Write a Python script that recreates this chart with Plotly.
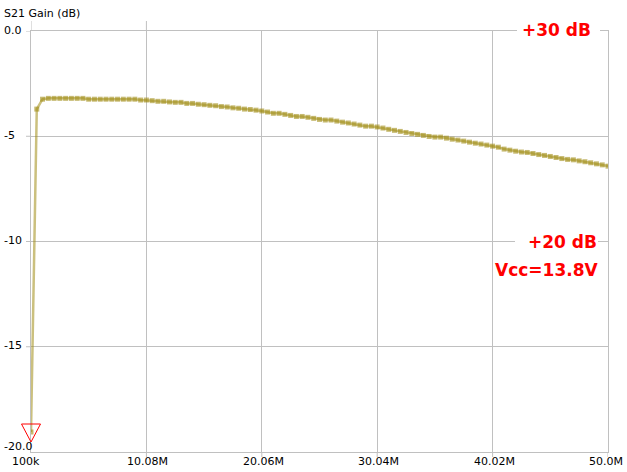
import numpy as np
import plotly.graph_objects as go

# ---- data ----
f_start = 0.1e6
f_stop = 50.0e6
n_points = 101
freqs = np.linspace(f_start, f_stop, n_points)

gain_db = [
    -19.05, -3.71, -3.24,
    -3.20, -3.20, -3.20, -3.20, -3.20, -3.20, -3.20,
    -3.24, -3.24, -3.24, -3.24, -3.24, -3.24, -3.24, -3.24, -3.24,
    -3.28, -3.28, -3.31, -3.34, -3.34, -3.37, -3.39, -3.39, -3.44, -3.44, -3.48,
    -3.50, -3.53, -3.55, -3.59, -3.61, -3.65, -3.67, -3.71, -3.73, -3.76,
    -3.80, -3.85, -3.91, -3.91, -3.96, -4.01, -4.06, -4.06, -4.10, -4.15,
    -4.20, -4.23, -4.23, -4.28, -4.33, -4.37, -4.42, -4.47, -4.52, -4.52,
    -4.56, -4.61,
    -4.67, -4.72, -4.77, -4.82, -4.87, -4.91, -4.96, -5.01, -5.04, -5.04,
    -5.09, -5.14, -5.18, -5.23, -5.28, -5.33, -5.37, -5.42, -5.47,
    -5.52, -5.61, -5.66, -5.71, -5.75, -5.77, -5.82, -5.87, -5.91, -5.96,
    -6.01, -6.06, -6.10, -6.12, -6.17, -6.21, -6.26, -6.31, -6.36, -6.42,
]

x_tick_vals = [0.1e6, 10.08e6, 20.06e6, 30.04e6, 40.02e6, 50.0e6]
x_tick_text = ["100k", "10.08M", "20.06M", "30.04M", "40.02M", "50.0M"]
y_tick_vals = [0, -5, -10, -15, -20]
y_tick_text = ["0.0", "-5", "-10", "-15", "-20.0"]

chart_title = "S21 Gain (dB)"
note_top = "+30 dB"
note_mid = "+20 dB"
note_vcc = "Vcc=13.8V"

# ---- style ----
GRID = "#c0c0c0"
SWEEP = "rgba(160,140,20,0.55)"
LABEL_FONT = dict(family="DejaVu Sans", size=11, color="black")
RED_FONT = dict(family="DejaVu Sans", size=17, color="#ff0000", weight="bold")

fig = go.Figure()
fig.add_trace(go.Scatter(
    x=freqs, y=gain_db, mode="lines+markers",
    line=dict(color=SWEEP, width=2.5),
    marker=dict(symbol="square", size=5, color="rgba(160,140,20,0.6)", line=dict(width=0)),
    hoverinfo="skip", showlegend=False,
))

shapes = []
# marker triangle at first point (first point sits on the left edge of the x range)
shapes.append(dict(
    type="path", xref="paper", yref="y", xsizemode="pixel", ysizemode="pixel",
    xanchor=0, yanchor=gain_db[0],
    path="M-9.5,8 L9.5,8 L0,-10 Z",
    line=dict(color="#ff0000", width=1), fillcolor="rgba(0,0,0,0)", layer="above",
))
# grid extensions
for v in y_tick_vals[:-1]:
    shapes.append(dict(type="line", xref="paper", yref="y", xsizemode="pixel",
                       xanchor=0, x0=-5, x1=0, y0=v, y1=v,
                       line=dict(color=GRID, width=1), layer="below"))
for i, v in enumerate(x_tick_vals):
    if i > 0:
        shapes.append(dict(type="line", xref="x", yref="paper", ysizemode="pixel",
                           yanchor=0, y0=-5, y1=0, x0=v, x1=v,
                           line=dict(color=GRID, width=1), layer="below"))
    if i < 2:
        shapes.append(dict(type="line", xref="x", yref="paper", ysizemode="pixel",
                           yanchor=1, y0=0, y1=10, x0=v, x1=v,
                           line=dict(color=GRID, width=1), layer="below"))
# white masks behind red notes
shapes.append(dict(type="rect", xref="paper", yref="paper", xsizemode="pixel", ysizemode="pixel",
                   xanchor=1, yanchor=1, x0=-91, x1=-8, y0=-9, y1=9,
                   fillcolor="white", line=dict(width=0), layer="above"))
shapes.append(dict(type="rect", xref="paper", yref="y", xsizemode="pixel", ysizemode="pixel",
                   xanchor=1, yanchor=-10, x0=-93, x1=-10, y0=-9, y1=9,
                   fillcolor="white", line=dict(width=0), layer="above"))

annotations = []
annotations.append(dict(text=chart_title, xref="paper", yref="paper", x=0, y=1,
                        xanchor="left", yanchor="middle", xshift=-28, yshift=18,
                        showarrow=False, font=LABEL_FONT, borderpad=0))
y_shifts = {0: 1, -20: 6}
for v, t in zip(y_tick_vals, y_tick_text):
    annotations.append(dict(text=t, xref="paper", yref="y", x=0, y=v,
                            xanchor="left", yanchor="middle", xshift=-28,
                            yshift=y_shifts.get(v, 1),
                            showarrow=False, font=LABEL_FONT, borderpad=0))
for v, t in zip(x_tick_vals, x_tick_text):
    annotations.append(dict(text=t, xref="x", yref="paper", x=v, y=0,
                            xanchor="left", yanchor="middle", xshift=-20, yshift=-9,
                            showarrow=False, font=LABEL_FONT, borderpad=0))
annotations.append(dict(text=note_top, xref="paper", yref="paper", x=1, y=1,
                        xanchor="right", yanchor="middle", xshift=-16, yshift=1,
                        showarrow=False, font=RED_FONT, borderpad=0))
annotations.append(dict(text=note_mid, xref="paper", yref="y", x=1, y=-10,
                        xanchor="right", yanchor="middle", xshift=-10, yshift=0,
                        showarrow=False, font=RED_FONT, borderpad=0))
annotations.append(dict(text=note_vcc, xref="paper", yref="y", x=1, y=-10,
                        xanchor="right", yanchor="middle", xshift=-9, yshift=-28,
                        showarrow=False, font=RED_FONT, borderpad=0))

fig.update_layout(
    width=627, height=472,
    margin=dict(l=31, r=19, t=31, b=20),
    paper_bgcolor="white", plot_bgcolor="white",
    shapes=shapes, annotations=annotations,
    showlegend=False,
)
fig.update_xaxes(range=[f_start, f_stop], tickvals=x_tick_vals, showticklabels=False,
                 showgrid=True, gridcolor=GRID, gridwidth=1, zeroline=False,
                 showline=True, linecolor=GRID, linewidth=1, mirror=True, ticks="")
fig.update_yaxes(range=[-20, 0], tickvals=y_tick_vals, showticklabels=False,
                 showgrid=True, gridcolor=GRID, gridwidth=1, zeroline=False,
                 showline=True, linecolor=GRID, linewidth=1, mirror=True, ticks="")

fig.write_html("out.html", config={"displayModeBar": False},
               post_script="document.body.style.margin='0';document.body.style.overflow='hidden';")
